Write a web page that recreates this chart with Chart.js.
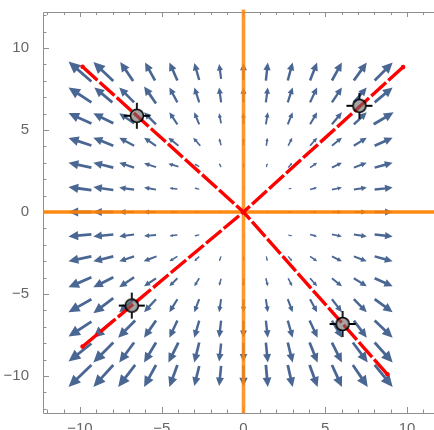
<!DOCTYPE html>
<html><head><meta charset="utf-8">
<script src="https://cdn.jsdelivr.net/npm/chart.js@4.4.1/dist/chart.umd.min.js"></script>
<style>html,body{margin:0;padding:0;background:#fff;overflow:hidden}#wrap{width:434px;height:430px}</style>
</head><body><div id="wrap"><canvas id="c" width="434" height="430"></canvas></div>
<script>
// grid of vector-field sample points
const gridX = [-10, -8.571, -7.143, -5.714, -4.286, -2.857, -1.429, 0, 1.429, 2.857, 4.286, 5.714, 7.143, 8.571];
const gridY = [8.571, 7.143, 5.714, 4.286, 2.857, 1.429, 0, -1.429, -2.857, -4.286, -5.714, -7.143, -8.571, -10];
// arrow x-components (rows follow gridY, columns follow gridX), data units
const arrowU = [
 [-1.40,-1.22,-0.79,-0.61,-0.49,-0.30,-0.12,0,0.12,0.30,0.43,0.61,0.79,1.10],
 [-1.40,-1.10,-0.91,-0.73,-0.49,-0.30,-0.12,0,0.12,0.30,0.43,0.61,0.79,1.10],
 [-1.40,-1.22,-0.91,-0.73,-0.49,-0.30,-0.12,0,0.12,0.30,0.43,0.61,0.79,1.22],
 [-1.40,-1.22,-0.91,-0.73,-0.61,-0.43,-0.12,0,0.06,0.24,0.43,0.61,0.79,1.10],
 [-1.40,-1.22,-0.91,-0.73,-0.61,-0.30,-0.12,0,0.06,0.24,0.43,0.61,0.79,1.10],
 [-1.40,-1.22,-0.91,-0.73,-0.49,-0.30,-0.06,0,0.06,0.18,0.43,0.61,0.79,1.10],
 [-1.40,-1.22,-0.91,-0.73,-0.49,-0.30,-0.12,0,0.12,0.30,0.43,0.61,0.79,1.10],
 [-1.40,-1.22,-0.91,-0.73,-0.49,-0.30,-0.06,0,0.06,0.24,0.43,0.61,0.79,1.10],
 [-1.40,-1.22,-0.91,-0.79,-0.49,-0.30,-0.12,0,0.06,0.24,0.43,0.61,0.79,1.10],
 [-1.40,-1.22,-0.91,-0.73,-0.49,-0.30,-0.12,0,0.12,0.24,0.43,0.61,0.79,1.10],
 [-1.40,-1.22,-0.91,-0.73,-0.49,-0.30,-0.12,0,0.12,0.30,0.43,0.61,0.79,1.10],
 [-1.40,-1.22,-1.04,-0.73,-0.49,-0.30,-0.12,0,0.12,0.30,0.49,0.61,0.79,1.10],
 [-1.40,-1.22,-0.91,-0.73,-0.61,-0.30,-0.12,0,0.12,0.30,0.49,0.61,0.91,1.10],
 [-1.40,-1.22,-1.04,-0.73,-0.49,-0.30,-0.12,0,0.12,0.30,0.49,0.61,0.91,1.10]
];
// arrow y-components (up positive), data units
const arrowV = [
 [1.22,1.16,1.16,1.10,1.10,1.04,0.91,1.04,1.10,1.10,1.10,1.10,1.10,1.10],
 [0.91,0.91,0.91,1.04,0.91,0.91,0.91,0.91,0.91,0.91,0.91,0.91,0.91,0.91],
 [0.64,0.61,0.61,0.73,0.73,0.73,0.61,0.67,0.73,0.73,0.73,0.73,0.73,0.73],
 [0.46,0.49,0.49,0.49,0.49,0.49,0.43,0.46,0.49,0.49,0.49,0.49,0.49,0.49],
 [0.30,0.30,0.30,0.24,0.18,0.18,0.24,0.27,0.24,0.30,0.30,0.30,0.30,0.30],
 [0.18,0.18,0.12,0.12,0.06,0.06,0.06,0.10,0.06,0.06,0.12,0.12,0.12,0.12],
 [0,0,0,0,0,0,0,0,0,0,0,0,0,0],
 [-0.12,-0.12,-0.12,-0.06,-0.06,-0.06,-0.06,-0.10,-0.06,-0.06,-0.12,-0.12,-0.12,-0.12],
 [-0.30,-0.30,-0.30,-0.30,-0.30,-0.30,-0.30,-0.27,-0.30,-0.30,-0.30,-0.30,-0.30,-0.30],
 [-0.61,-0.61,-0.61,-0.49,-0.49,-0.49,-0.43,-0.49,-0.49,-0.49,-0.49,-0.49,-0.49,-0.49],
 [-0.79,-0.91,-0.79,-0.79,-0.79,-0.79,-0.79,-0.79,-0.79,-0.79,-0.79,-0.79,-0.79,-0.79],
 [-0.91,-1.04,-1.04,-1.04,-1.04,-1.04,-1.04,-1.04,-1.04,-1.04,-1.04,-1.04,-1.04,-1.04],
 [-1.10,-1.22,-1.22,-1.22,-1.22,-1.22,-1.10,-1.16,-1.22,-1.22,-1.22,-1.22,-1.22,-1.22],
 [-1.34,-1.34,-1.34,-1.34,-1.34,-1.22,-1.22,-1.28,-1.34,-1.34,-1.34,-1.34,-1.34,-1.34]
];
// red dashed lines: far end points (each runs to the origin)
const lineEnds = [{x:-9.84,y:8.86},{x:9.76,y:8.84},{x:-9.84,y:-8.21},{x:8.80,y:-9.90}];
const origin = {x:0,y:0};
// locator markers
const locators = [{x:-6.52,y:5.87},{x:7.09,y:6.48},{x:-6.83,y:-5.71},{x:6.06,y:-6.83}];
// axis ticks
const majorTicks = [-10,-5,0,5,10];
const minorTicks = [-12,-11,-9,-8,-7,-6,-4,-3,-2,-1,1,2,3,4,6,7,8,9,11,12];
const xRange = [-12.26, 11.65];
const yRange = [-12.26, 12.2];

const arrowData = [];
gridY.forEach((y,j)=>gridX.forEach((x,i)=>arrowData.push({x:x,y:y,u:arrowU[j][i],v:arrowV[j][i]})));

const ARROW = 'rgb(74,103,148)';
const FRAME = '#8f8f8f';

// locator symbol
const loc = document.createElement('canvas');
loc.width = 32; loc.height = 32;
(function(){
  const g = loc.getContext('2d');
  const c = 16, r = 6.5;
  g.beginPath(); g.arc(c,c,r,0,Math.PI*2);
  g.fillStyle = 'rgba(105,105,105,0.6)'; g.fill();
  g.lineWidth = 1.6; g.strokeStyle = '#000'; g.stroke();
  g.lineWidth = 1.8;
  g.beginPath();
  g.moveTo(c-13,c); g.lineTo(c-r+0.5,c);
  g.moveTo(c+r-0.5,c); g.lineTo(c+13,c);
  g.moveTo(c,c-13); g.lineTo(c,c-r+0.5);
  g.moveTo(c,c+r-0.5); g.lineTo(c,c+13);
  g.stroke();
})();

const fmt = v => v < 0 ? '\u2212' + Math.abs(v) : String(v);

const underlay = {
  id:'underlay',
  beforeDatasetsDraw(chart){
    const ctx = chart.ctx, xs = chart.scales.x, ys = chart.scales.y;
    const a = chart.chartArea;
    ctx.save();
    ctx.strokeStyle = FRAME; ctx.lineWidth = 1;
    ctx.beginPath();
    ctx.moveTo(a.right, a.top+0.5); ctx.lineTo(a.left+0.5, a.top+0.5);
    ctx.lineTo(a.left+0.5, a.bottom+0.5); ctx.lineTo(a.right, a.bottom+0.5);
    ctx.stroke();
    ctx.beginPath();
    const tick = (v, len, lenTop) => {
      const px = Math.round(xs.getPixelForValue(v)) + 0.5;
      if (px > a.left + 1 && px < a.right) {
        ctx.moveTo(px, a.bottom); ctx.lineTo(px, a.bottom - len);
        ctx.moveTo(px, a.top); ctx.lineTo(px, a.top + lenTop);
      }
      const py = Math.round(ys.getPixelForValue(v)) + 0.5;
      if (py > a.top + 1 && py < a.bottom - 1) {
        ctx.moveTo(a.left, py); ctx.lineTo(a.left + len, py);
      }
    };
    majorTicks.forEach(v => tick(v, 6, 5));
    minorTicks.forEach(v => tick(v, 3.5, 3));
    ctx.stroke();
    ctx.fillStyle = ARROW; ctx.strokeStyle = ARROW; ctx.lineCap = 'butt';
    chart.data.datasets[0].data.forEach(p => {
      const x0 = xs.getPixelForValue(p.x - p.u/2), y0 = ys.getPixelForValue(p.y - p.v/2);
      const x1 = xs.getPixelForValue(p.x + p.u/2), y1 = ys.getPixelForValue(p.y + p.v/2);
      const dx = x1 - x0, dy = y1 - y0, L = Math.hypot(dx, dy);
      if (L < 1.5) return;
      const ux = dx/L, uy = dy/L;
      const hl = Math.min(0.42*L, 12), hw = Math.min(0.2*L, 5.5);
      const bx = x1 - ux*hl, by = y1 - uy*hl;
      ctx.lineWidth = Math.min(2.8, 0.8 + 0.09*L);
      ctx.beginPath(); ctx.moveTo(x0, y0); ctx.lineTo(bx + ux*0.8, by + uy*0.8); ctx.stroke();
      ctx.beginPath(); ctx.moveTo(x1, y1);
      ctx.lineTo(bx - uy*hw, by + ux*hw); ctx.lineTo(bx + uy*hw, by - ux*hw);
      ctx.closePath(); ctx.fill();
    });
    ctx.restore();
  }
};

const datasets = [
  { label:'field', type:'scatter', data: arrowData, pointRadius:0, pointHoverRadius:0, order:10 },
  { label:'xaxis', type:'line', data:[{x:xRange[0],y:0},{x:xRange[1],y:0}], borderColor:'rgba(255,128,0,0.92)', borderWidth:3.6, pointRadius:0, order:4, clip:false },
  { label:'yaxis', type:'line', data:[{x:0,y:yRange[0]},{x:0,y:yRange[1]+0.15}], borderColor:'rgba(255,135,10,0.85)', borderWidth:3.6, pointRadius:0, order:4, clip:false }
];
lineEnds.forEach(e => datasets.push({
  label:'sep', type:'line', data:[e, origin], borderColor:'#ff0000', borderWidth:3.4,
  borderDash:[20,3], borderCapStyle:'butt', pointRadius:[2.3,0], pointBackgroundColor:'#ff0000',
  pointBorderWidth:0, order:2
}));
datasets.push({ label:'locators', type:'scatter', data: locators, pointStyle: loc, pointRadius: 16, order:1 });

new Chart(document.getElementById('c'), {
  type:'scatter',
  data:{ datasets },
  options:{
    responsive:false, animation:false, devicePixelRatio:1,
    layout:{ autoPadding:false, padding:{ top:12, right:0, left:0, bottom:0 } },
    plugins:{ legend:{display:false}, tooltip:{enabled:false} },
    events:[],
    scales:{
      x:{
        type:'linear', position:'bottom', min:xRange[0], max:xRange[1],
        grid:{display:false}, border:{display:false},
        afterBuildTicks: s => { s.ticks = majorTicks.map(v => ({value:v})); },
        afterFit: s => { s.height = 17; s.paddingLeft = 0; s.paddingRight = 0; },
        ticks:{ autoSkip:false, maxRotation:0, padding:-1, color:'#666',
          font:{family:'"Liberation Sans", Arial, sans-serif', size:15}, callback: v => fmt(v) }
      },
      y:{
        type:'linear', position:'left', min:yRange[0], max:yRange[1],
        grid:{display:false}, border:{display:false},
        afterBuildTicks: s => { s.ticks = majorTicks.map(v => ({value:v})); },
        afterFit: s => { s.width = 43; s.paddingTop = 0; s.paddingBottom = 0; },
        ticks:{ autoSkip:false, padding:6, color:'#666',
          font:{family:'"Liberation Sans", Arial, sans-serif', size:15}, callback: v => fmt(v) }
      }
    }
  },
  plugins:[underlay]
});
</script></body></html>
